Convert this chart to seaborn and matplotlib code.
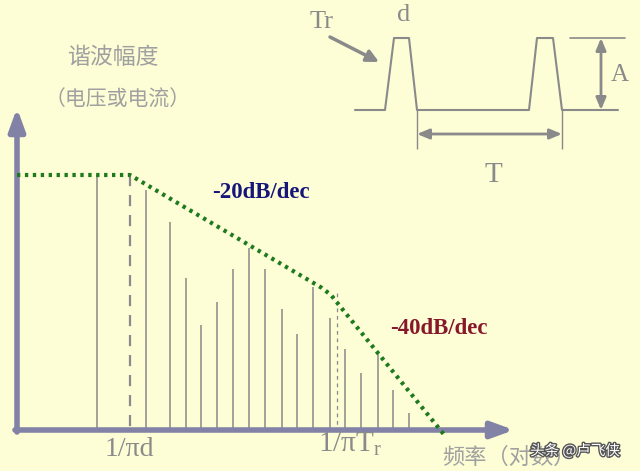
import matplotlib
matplotlib.use("Agg")
import matplotlib.pyplot as plt
import matplotlib.patheffects as pe
import numpy as np
import seaborn as sns

# Diagram units: x to the right, y downwards (same scale as the 640x471 picture)
# spectral lines of the trapezoid pulse train
harmonic_x = [97, 146, 170, 186, 201, 217, 233, 249, 265, 282, 297, 313, 330, 345, 361, 378, 393, 409]
harmonic_top = [175, 190, 222, 278, 325, 302, 269, 248, 269, 309, 334, 287, 318, 349, 373, 352, 390, 413]

# asymptotic envelope: flat, -20dB/dec, -40dB/dec
envelope_x = [17, 130, 322, 331, 339, 446]
envelope_y = [175, 175, 288, 295, 305, 437]

# one period of the time-domain pulse
pulse_x = [355, 385, 394, 409, 417, 529, 537, 553, 562, 618]
pulse_y = [110, 110, 38, 38, 110, 110, 38, 38, 110, 110]

bg = "#fdfdd6"
grey = "#8a8a8a"
axis_col = "#8282a6"

sns.set_theme(style="white")
plt.rcParams["font.family"] = ["Noto Sans CJK SC", "DejaVu Sans"]

fig = plt.figure(figsize=(6.4, 4.71), dpi=100, facecolor=bg)
ax = fig.add_axes([0, 0, 1, 1])
ax.set_facecolor(bg)
ax.set_xlim(0, 640)
ax.set_ylim(471, 0)
ax.axis("off")

base_y = 430

# harmonic lines
ax.vlines(harmonic_x, harmonic_top, base_y, color=grey, lw=1.1, zorder=2)

# corner frequency markers
ax.vlines(130, 175, base_y, color=grey, lw=1.6, linestyles=(0, (5, 4)), zorder=2)
ax.vlines(337, 293, base_y, color=grey, lw=0.9, linestyles=(0, (3, 3)), zorder=2)

# envelope
sns.lineplot(x=envelope_x, y=envelope_y, sort=False, estimator=None, ax=ax,
             color="#1e7a1e", lw=3, linestyle=(0, (0.8, 1.1)), zorder=4)

# axes with arrowheads
ax.annotate("", xy=(17, 108), xytext=(17, base_y + 2),
            arrowprops=dict(arrowstyle="-|>,head_length=1.1,head_width=0.4",
                            color=axis_col, lw=4, shrinkA=0, shrinkB=0), zorder=3)
ax.annotate("", xy=(514, base_y), xytext=(15, base_y),
            arrowprops=dict(arrowstyle="-|>,head_length=1.1,head_width=0.4",
                            color=axis_col, lw=4, shrinkA=0, shrinkB=0), zorder=3)

# text on the spectrum
serif = ["Liberation Serif", "DejaVu Serif"]
ax.text(113, 57, "谐波幅度", fontsize=16.5, color="#a0a0a0", ha="center", va="center")
ax.text(118, 100, "（电压或电流）", fontsize=15, color="#a0a0a0", ha="center", va="center")
ax.text(261, 193, "-20dB/dec", fontsize=16.5, fontweight="bold", color="#16167a",
        family=serif, ha="center", va="center")
ax.text(439, 329, "-40dB/dec", fontsize=16.5, fontweight="bold", color="#86182a",
        family=serif, ha="center", va="center")
ax.text(129, 456, "1/πd", fontsize=20, color=grey, family=serif, ha="center", va="baseline")
ax.text(318, 452, r"$\mathregular{1/πT_r}$", fontsize=21, color=grey, family=serif,
        ha="left", va="baseline")
ax.text(509, 457, "频率（对数）", fontsize=16, color="#a0a0a0", ha="center", va="center")

# pulse sketch
ax.plot(pulse_x, pulse_y, color=grey, lw=1.5)
ax.plot([570, 625], [38, 38], color=grey, lw=1.2)
ax.annotate("", xy=(601, 38), xytext=(601, 110),
            arrowprops=dict(arrowstyle="<|-|>,head_length=0.6,head_width=0.25",
                            color=grey, lw=2, shrinkA=0, shrinkB=0))
ax.vlines([417, 562], 110, 149, color=grey, lw=1)
ax.annotate("", xy=(417, 134), xytext=(562, 134),
            arrowprops=dict(arrowstyle="<|-|>,head_length=0.6,head_width=0.25",
                            color=grey, lw=2, shrinkA=0, shrinkB=0))
ax.annotate("", xy=(379, 62), xytext=(330, 37),
            arrowprops=dict(arrowstyle="-|>,head_length=0.6,head_width=0.3",
                            color=grey, lw=2.5, shrinkA=0, shrinkB=0))
ax.text(322, 22, "Tr", fontsize=19, color=grey, family=serif, ha="center", va="center")
ax.text(404, 15, "d", fontsize=19, color=grey, family=serif, ha="center", va="center")
ax.text(620, 75, "A", fontsize=18, color=grey, family=serif, ha="center", va="center")
ax.text(493, 175, "T", fontsize=21, color=grey, family=serif, ha="center", va="center")

# watermark (sits over the axis label, as in the source picture)
ax.text(530, 451, "头条 @卢飞侠", fontsize=10.5, color="white", ha="left", va="center",
        path_effects=[pe.withStroke(linewidth=2, foreground="#555555")])

fig.savefig("out.png", dpi=100, facecolor=bg)
